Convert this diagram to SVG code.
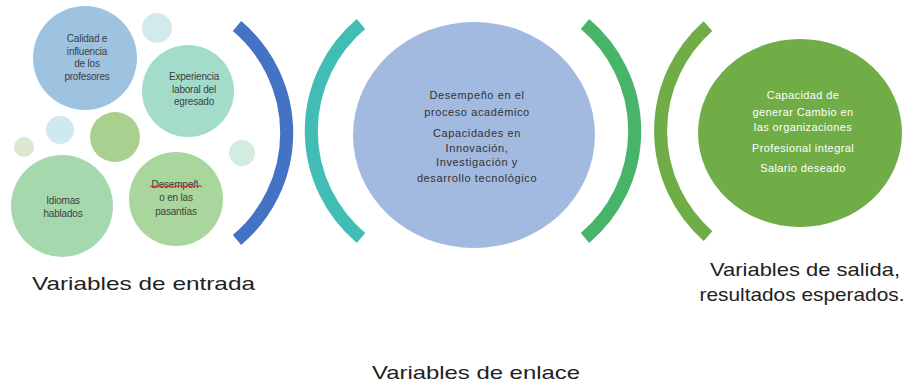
<svg xmlns="http://www.w3.org/2000/svg" width="906" height="385" viewBox="0 0 906 385">
<style>
.t{font-family:"Liberation Sans",Arial,sans-serif;text-anchor:middle;fill:#404040}
.s{font-size:10px;letter-spacing:-0.2px}
.m{font-size:11px;letter-spacing:0.6px;fill:#333}
.w{font-size:11px;letter-spacing:0.4px;fill:#fff}
.lab{font-family:"Liberation Sans",Arial,sans-serif;font-size:19px;fill:#222}
.arc{fill:none;stroke-width:13;stroke-linecap:butt}
</style>
<rect width="906" height="385" fill="#fff"/>
<g id="bubbles">
<circle cx="157" cy="28" r="15" fill="#d1ebec"/>
<circle cx="60" cy="130" r="14" fill="#d0e8ef"/>
<circle cx="115" cy="137" r="25" fill="#a9d08f"/>
<circle cx="24" cy="147" r="10" fill="#dbe8cf"/>
<circle cx="242" cy="153" r="13" fill="#d3ece0"/>
</g>
<g id="calidad">
<circle cx="85" cy="58" r="52" fill="#9dc3e0"/>
<text class="t s" x="87" y="42">Calidad e</text>
<text class="t s" x="87" y="55">influencia</text>
<text class="t s" x="87" y="67">de los</text>
<text class="t s" x="87" y="80">profesores</text>
</g>
<g id="experiencia">
<circle cx="188" cy="91" r="46" fill="#a3dccb"/>
<text class="t s" x="194" y="80">Experiencia</text>
<text class="t s" x="194" y="93">laboral del</text>
<text class="t s" x="194" y="105">egresado</text>
</g>
<g id="idiomas">
<circle cx="62" cy="206" r="51" fill="#a6d8ae"/>
<text class="t s" x="63" y="204">Idiomas</text>
<text class="t s" x="63" y="217">hablados</text>
</g>
<g id="pasantias">
<circle cx="176" cy="199" r="47" fill="#a9d69c"/>
<text class="t s" x="175" y="188">Desempeñ</text>
<path d="M150,187 l2,-1.5 l2,1.5 l2,-1.5 l2,1.5 l2,-1.5 l2,1.5 l2,-1.5 l2,1.5 l2,-1.5 l2,1.5 l2,-1.5 l2,1.5 l2,-1.5 l2,1.5 l2,-1.5 l2,1.5 l2,-1.5 l2,1.5 l2,-1.5 l2,1.5 l2,-1.5 l2,1.5 l2,-1.5 l2,1.5 l2,-1.5 l2,1.5" fill="none" stroke="#e02020" stroke-width="1"/>
<text class="t s" x="176" y="201">o en las</text>
<text class="t s" x="176" y="215">pasantías</text>
</g>
<g id="enlace">
<ellipse cx="474" cy="135" rx="121" ry="113" fill="#a2b9e0"/>
<text class="t m" x="477" y="99">Desempeño en el</text>
<text class="t m" x="477" y="116">proceso académico</text>
<text class="t m" x="477" y="137">Capacidades en</text>
<text class="t m" x="477" y="152">Innovación,</text>
<text class="t m" x="477" y="166">Investigación y</text>
<text class="t m" x="477" y="182">desarrollo tecnológico</text>
</g>
<g id="salida">
<ellipse cx="800" cy="133" rx="102" ry="94" fill="#70ad47"/>
<text class="t w" x="803" y="99">Capacidad de</text>
<text class="t w" x="803" y="116">generar Cambio en</text>
<text class="t w" x="803" y="131">las organizaciones</text>
<text class="t w" x="803" y="152">Profesional integral</text>
<text class="t w" x="803" y="172">Salario deseado</text>
</g>
<g id="connectors">
<path class="arc" stroke="#4472c4" d="M237,26 A140,140 0 0 1 237,240"/>
<path class="arc" stroke="#41bdb6" d="M361,24 A140,140 0 0 0 361,238"/>
<path class="arc" stroke="#47b46a" d="M585,24 A140,140 0 0 1 585,238"/>
<path class="arc" stroke="#70ad47" d="M708,26 A140,140 0 0 0 708,236"/>
</g>
<g id="labels">
<text class="lab" x="32" y="290" textLength="223" lengthAdjust="spacingAndGlyphs">Variables de entrada</text>
<text class="lab" x="805" y="276" text-anchor="middle" textLength="190" lengthAdjust="spacingAndGlyphs">Variables de salida,</text>
<text class="lab" x="802" y="301" text-anchor="middle" textLength="205" lengthAdjust="spacingAndGlyphs">resultados esperados.</text>
<text class="lab" x="476" y="379" text-anchor="middle" textLength="208" lengthAdjust="spacingAndGlyphs">Variables de enlace</text>
</g>
</svg>
